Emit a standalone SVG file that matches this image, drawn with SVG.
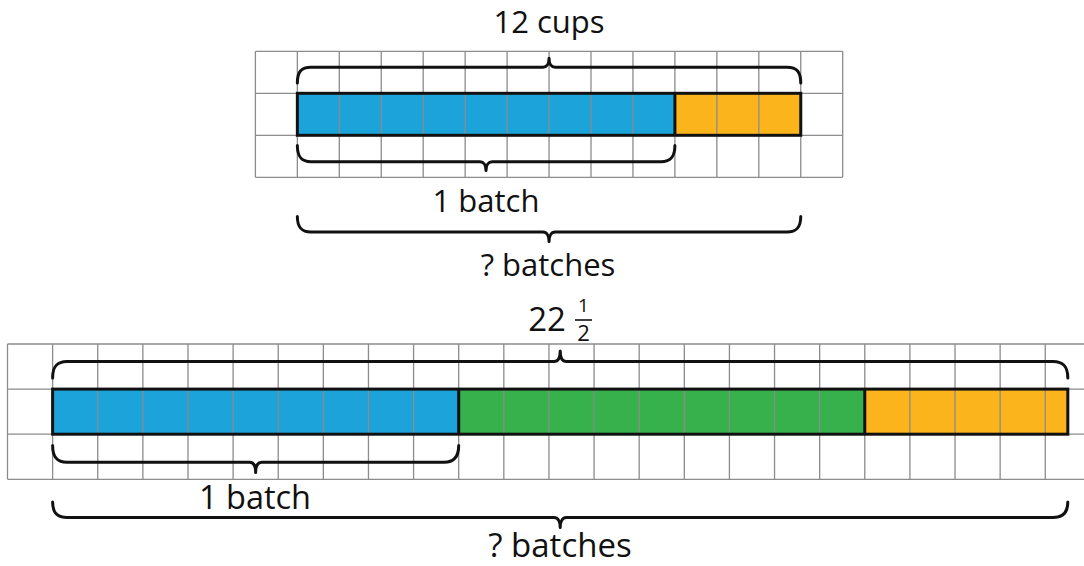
<svg xmlns="http://www.w3.org/2000/svg" width="1084" height="566" viewBox="0 0 1084 566">
<style>
.grid{fill:none;stroke:#8c8c8c;stroke-width:1.3}
.bar{fill:none;stroke:#111;stroke-width:3}
.sep{stroke:#111;stroke-width:3}
.brace{fill:none;stroke:#111;stroke-width:3;stroke-linecap:round;stroke-linejoin:round}
.lbl{font-family:"Open Sans","Noto Sans","Liberation Sans",sans-serif;fill:#111;text-anchor:middle}
.blue{fill:#1ca3d9}
.orange{fill:#fbb41b}
.green{fill:#37b14b}
</style>
<rect width="1084" height="566" fill="#fff"/>
<g id="top-diagram">
  <g id="top-fills">
    <rect class="blue" x="297.35" y="93.3" width="377.55" height="42"/>
    <rect class="orange" x="674.9" y="93.3" width="125.85" height="42"/>
  </g>
  <path id="top-grid" class="grid" d="M255.4,51.3H842.7M255.4,93.3H842.7M255.4,135.3H842.7M255.4,177.3H842.7
  M255.4,51.3V177.3M297.35,51.3V177.3M339.3,51.3V177.3M381.25,51.3V177.3M423.2,51.3V177.3M465.15,51.3V177.3M507.1,51.3V177.3M549.05,51.3V177.3M591,51.3V177.3M632.95,51.3V177.3M674.9,51.3V177.3M716.85,51.3V177.3M758.8,51.3V177.3M800.75,51.3V177.3M842.7,51.3V177.3"/>
  <g id="top-bar">
    <rect class="bar" x="297.35" y="93.3" width="503.4" height="42"/>
    <line class="sep" x1="674.9" y1="93.3" x2="674.9" y2="135.3"/>
  </g>
</g>
<g id="bottom-diagram">
  <g id="bottom-fills">
    <rect class="blue" x="52.62" y="389.1" width="406.08" height="45.1"/>
    <rect class="green" x="458.7" y="389.1" width="406.08" height="45.1"/>
    <rect class="orange" x="864.78" y="389.1" width="203.04" height="45.1"/>
  </g>
  <path id="bottom-grid" class="grid" d="M7.5,344H1084M7.5,389.1H1084M7.5,434.2H1084M7.5,479.3H1084
  M7.5,344V479.3M52.62,344V479.3M97.74,344V479.3M142.86,344V479.3M187.98,344V479.3M233.1,344V479.3M278.22,344V479.3M323.34,344V479.3M368.46,344V479.3M413.58,344V479.3M458.7,344V479.3M503.82,344V479.3M548.94,344V479.3M594.06,344V479.3M639.18,344V479.3M684.3,344V479.3M729.42,344V479.3M774.54,344V479.3M819.66,344V479.3M864.78,344V479.3M909.9,344V479.3M955.02,344V479.3M1000.14,344V479.3M1045.26,344V479.3"/>
  <g id="bottom-bar">
    <rect class="bar" x="52.62" y="389.1" width="1015.2" height="45.1"/>
    <line class="sep" x1="458.7" y1="389.1" x2="458.7" y2="434.2"/>
    <line class="sep" x1="864.78" y1="389.1" x2="864.78" y2="434.2"/>
  </g>
</g>
<g id="connectors">
  <path id="brace-12cups" class="brace" d="M297.35,83 C297.35,72 301,67.3 311,67.3 L543,67.3 C546.5,67.3 549.05,64 549.05,58.3 C549.05,64 551.6,67.3 555.1,67.3 L787,67.3 C797,67.3 800.75,72 800.75,83"/>
  <path id="brace-top-1batch" class="brace" d="M297.35,145.5 C297.35,156.5 301,161.7 311,161.7 L480,161.7 C483.5,161.7 486,165 486,170.5 C486,165 488.6,161.7 492.1,161.7 L661,161.7 C671,161.7 674.9,156.5 674.9,145.5"/>
  <path id="brace-top-batches" class="brace" d="M297.35,216.5 C297.35,227 301,232 311,232 L543,232 C546.5,232 549.05,235.5 549.05,241.5 C549.05,235.5 551.6,232 555.1,232 L787,232 C797,232 800.75,227 800.75,216.5"/>
  <path id="brace-22half" class="brace" d="M52.62,378 C52.62,367 56.5,361.5 67,361.5 L554,361.5 C557.6,361.5 560.2,358 560.2,351 C560.2,358 562.8,361.5 566.4,361.5 L1053,361.5 C1063.5,361.5 1067.82,367 1067.82,378"/>
  <path id="brace-bottom-1batch" class="brace" d="M52.62,445.5 C52.62,456.5 56.5,462.3 67,462.3 L249.5,462.3 C253.1,462.3 255.66,465.8 255.66,472.5 C255.66,465.8 258.2,462.3 261.8,462.3 L444,462.3 C454.5,462.3 458.7,456.5 458.7,445.5"/>
  <path id="brace-bottom-batches" class="brace" d="M52.62,502 C52.62,512 56.5,517.5 67,517.5 L554,517.5 C557.6,517.5 560.2,521 560.2,527.5 C560.2,521 562.8,517.5 566.4,517.5 L1053,517.5 C1063.5,517.5 1067.82,512 1067.82,502"/>
</g>
<g id="labels">
  <text id="t-12cups" class="lbl" x="549" y="33" font-size="31">12 cups</text>
  <text id="t-top-1batch" class="lbl" x="486" y="212" font-size="31">1 batch</text>
  <text id="t-top-batches" class="lbl" x="548" y="276" font-size="31">? batches</text>
  <g id="t-22half">
    <text class="lbl" x="547" y="331" font-size="33">22</text>
    <text class="lbl" x="583.5" y="311.5" font-size="19">1</text>
    <line x1="575" y1="320" x2="592" y2="320" stroke="#111" stroke-width="1.6"/>
    <text class="lbl" x="583.5" y="341" font-size="22">2</text>
  </g>
  <text id="t-bottom-1batch" class="lbl" x="255" y="508.5" font-size="32.5">1 batch</text>
  <text id="t-bottom-batches" class="lbl" x="560" y="557" font-size="33">? batches</text>
</g>
</svg>
